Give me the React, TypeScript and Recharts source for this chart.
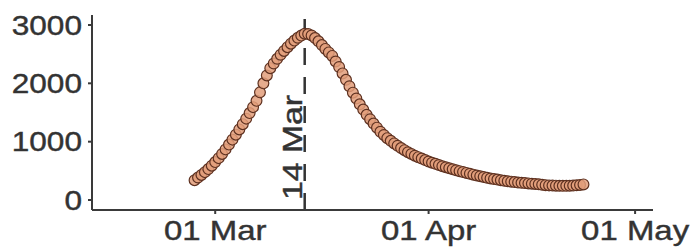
import React from "react";
import { ComposedChart, Scatter, XAxis, YAxis, ReferenceLine } from "recharts";

// days relative to 01 Mar (day 0), sampled every half day starting 26 Feb
const startDay = -3;
const stepDays = 0.5;
const cases = [
  340, 385, 430, 478, 530, 588, 650, 718, 790, 868,
  950, 1035, 1120, 1210, 1300, 1395, 1490, 1592, 1700, 1845,
  2000, 2135, 2260, 2340, 2420, 2490, 2555, 2620, 2680, 2732,
  2780, 2818, 2850, 2845, 2820, 2775, 2720, 2655, 2590, 2530,
  2470, 2375, 2280, 2170, 2060, 1950, 1840, 1740, 1640, 1550,
  1460, 1385, 1310, 1240, 1170, 1115, 1060, 1015, 970, 930,
  890, 855, 820, 790, 760, 735, 710, 685, 660, 640,
  620, 600, 580, 562, 545, 528, 510, 495, 480, 465,
  450, 435, 420, 408, 395, 382, 370, 360, 350, 340,
  330, 322, 315, 307, 300, 295, 290, 285, 280, 275,
  270, 262, 255, 251, 248, 246, 244, 243, 243, 245,
  248, 252, 258, 268,
];

const xTicks = [0, 31, 61];
const xTickLabels = ["01 Mar", "01 Apr", "01 May"];
const yTicks = [0, 1000, 2000, 3000];
const peakDay = 13;
const peakLabel = "14 Mar";

const data = cases.map((v, i) => ({ day: startDay + i * stepDays, value: v }));

const FONT = "'Liberation Sans', Arial, sans-serif";
const TEXT = "#333333";
const AXIS = "#3a3a3a";

const XTick = (props: any) => {
  const { x, y, payload } = props;
  const idx = xTicks.indexOf(payload.value);
  return (
    <g transform={`translate(${x},${y}) scale(1.22,1)`}>
      <text x={0} y={24} textAnchor="middle" fontFamily={FONT} fontSize={27} fill={TEXT} stroke={TEXT} strokeWidth={0.4}>
        {idx >= 0 ? xTickLabels[idx] : payload.value}
      </text>
    </g>
  );
};

const YTick = (props: any) => {
  const { x, y, payload } = props;
  return (
    <g transform={`translate(${x - 4},${y}) scale(1.17,1)`}>
      <text x={0} y={0} dy="0.36em" textAnchor="end" fontFamily={FONT} fontSize={27} fill={TEXT} stroke={TEXT} strokeWidth={0.4}>
        {payload.value}
      </text>
    </g>
  );
};

const Dot = (props: any) => {
  const { cx, cy } = props;
  return (
    <circle cx={cx} cy={cy} r={5.4} fill="#e29d7a" fillOpacity={0.85} stroke="#5e3120" strokeWidth={1.2} />
  );
};

const PeakLabel = (props: any) => {
  const vb = props.viewBox || {};
  const lx = (vb.x ?? 0) - 3;
  const ly = (vb.y ?? 0) + (vb.height ?? 0) - 10;
  return (
    <g transform={`translate(${lx},${ly}) rotate(-90) scale(1.25,1)`}>
      <text x={0} y={0} textAnchor="start" fontFamily={FONT} fontSize={27} fill={TEXT} stroke={TEXT} strokeWidth={0.4}>
        {peakLabel}
      </text>
    </g>
  );
};

export default function App() {
  return (
    <div style={{ position: "absolute", left: 0, top: 0, width: 695, height: 247, background: "#fff" }}>
      <ComposedChart width={695} height={247} data={data} margin={{ top: 15, right: 42, bottom: 0, left: 0 }}>
        <XAxis
          dataKey="day"
          type="number"
          domain={[-17.9, 63.6]}
          ticks={xTicks}
          tick={<XTick />}
          tickSize={4}
          height={37}
          axisLine={{ stroke: AXIS, strokeWidth: 2 }}
          tickLine={{ stroke: AXIS, strokeWidth: 2 }}
          allowDataOverflow
        />
        <YAxis
          dataKey="value"
          type="number"
          domain={[-171, 3171]}
          ticks={yTicks}
          tick={<YTick />}
          tickSize={4}
          width={92}
          axisLine={{ stroke: AXIS, strokeWidth: 2 }}
          tickLine={{ stroke: AXIS, strokeWidth: 2 }}
          allowDataOverflow
        />
        <ReferenceLine
          x={peakDay}
          stroke="#333"
          strokeWidth={2.5}
          strokeDasharray="17 12"
          label={<PeakLabel />}
        />
        <Scatter data={data} dataKey="value" shape={<Dot />} isAnimationActive={false} />
      </ComposedChart>
    </div>
  );
}
